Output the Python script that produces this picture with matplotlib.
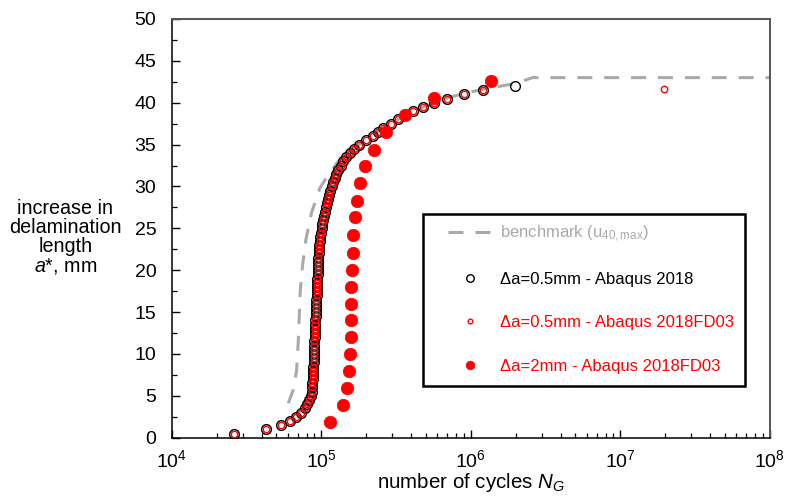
import matplotlib
matplotlib.use("Agg")
import matplotlib.pyplot as plt
from matplotlib.lines import Line2D
from matplotlib.patches import Rectangle
from matplotlib.ticker import LogLocator, MultipleLocator, NullFormatter

plt.rcParams['font.family'] = ['Liberation Sans', 'DejaVu Sans']
plt.rcParams['mathtext.fontset'] = 'custom'
plt.rcParams['mathtext.rm'] = 'Liberation Sans'
plt.rcParams['mathtext.it'] = 'Liberation Sans:italic'
plt.rcParams['mathtext.bf'] = 'Liberation Sans:bold'

# benchmark curve (u40,max)
bench_n = [6.03e4, 6.5e4, 6.85e4, 7.03e4, 7.25e4, 7.5e4, 7.9e4, 8.6e4, 9.8e4,
           1.08e5, 1.3e5, 1.8e5, 2.6e5, 4.1e5, 7.0e5, 1.2e6, 2.0e6, 2.6e6, 1.0e8]
bench_a = [4.1, 5.7, 8.0, 11.5, 17.5, 20.5, 23.6, 26.8, 29.8,
           31.0, 33.0, 35.0, 37.0, 39.0, 40.6, 41.6, 42.3, 43.0, 43.0]

# da = 0.5 mm, Abaqus 2018
abq_a = [0.5, 1.0, 1.5, 2.0, 2.5, 3.0, 3.5, 4.0, 4.5, 5.0, 5.5, 6.0, 6.5, 7.0,
         7.5, 8.0, 8.5, 9.0, 9.5, 10.0, 10.5, 11.0, 11.5, 12.0, 12.5, 13.0,
         13.5, 14.0, 14.5, 15.0, 15.5, 16.0, 16.5, 17.0, 17.5, 18.0, 18.5,
         19.0, 19.5, 20.0, 20.5, 21.0, 21.5, 22.0, 22.5, 23.0, 23.5, 24.0,
         24.5, 25.0, 25.5, 26.0, 26.5, 27.0, 27.5, 28.0, 28.5, 29.0, 29.5,
         30.0, 30.5, 31.0, 31.5, 32.0, 32.5, 33.0, 33.5, 34.0, 34.5, 35.0,
         35.5, 36.0, 36.5, 37.0, 37.5, 38.0, 38.5, 39.0, 39.5, 40.0, 40.5,
         41.0, 41.5, 42.0]
abq_n = [26100, 42500, 53600, 61800, 67800, 73600, 77900, 80700, 83200, 85100,
         86300, 87000, 87400, 87800, 88100, 88400, 88700, 89000, 89200, 89500,
         89700, 90000, 90200, 90500, 90800, 91000, 91300, 91600, 91800, 92100,
         92400, 92700, 93000, 93200, 93500, 93800, 94000, 94300, 94600, 94900,
         95200, 95600, 95900, 96300, 96800, 97300, 97900, 99000, 100000, 101000,
         102100, 103300, 104700, 106200, 107800, 109500, 111300, 113300, 115500,
         117900, 120500, 123400, 126600, 130500, 135000, 140500, 147000, 155000,
         165000, 179000, 200000, 221000, 241000, 260000, 292000, 325000, 363000,
         409000, 478000, 568000, 697000, 902000, 1210000, 1990000]

# da = 0.5 mm, Abaqus 2018FD03: same increments up to 41.5 mm, last one far out
fd05_a = abq_a[:-1] + [41.6]
fd05_n = abq_n[:-1] + [1.96e7]

# da = 2 mm, Abaqus 2018FD03
fd2_a = [1.9, 3.9, 5.95, 8.0, 10.0, 12.0, 14.0, 16.0, 18.0, 20.0, 22.1,
         24.2, 26.3, 28.3, 30.4, 32.4, 34.4, 36.5, 38.5, 40.6, 42.6]
fd2_n = [1.145e5, 1.393e5, 1.495e5, 1.527e5, 1.559e5, 1.575e5, 1.575e5,
         1.575e5, 1.589e5, 1.607e5, 1.625e5, 1.64e5, 1.675e5, 1.727e5,
         1.818e5, 1.973e5, 2.255e5, 2.71e5, 3.62e5, 5.69e5, 1.36e6]

BENCH_GREY = '#a9a9a9'

fig = plt.figure(figsize=(7.86, 4.97), dpi=100)
ax = fig.add_axes([0.2184, 0.1193, 0.7607, 0.8425])

ax.plot(bench_n, bench_a, color=BENCH_GREY, lw=2.2, dashes=(4.9, 3.9), zorder=1)
ax.plot(abq_n, abq_a, ls='none', marker='o', ms=7.0, mfc='none', mec='black',
        mew=1.0, zorder=2)
ax.plot(fd05_n, fd05_a, ls='none', marker='o', ms=4.6, mfc='none', mec='red',
        mew=1.0, zorder=3)
ax.plot(fd2_n, fd2_a, ls='none', marker='o', ms=9.0, mfc='red', mec='red',
        mew=0.5, zorder=4)

ax.set_xscale('log')
ax.set_xlim(1e4, 1e8)
ax.set_ylim(0, 50)
ax.xaxis.set_major_locator(LogLocator(base=10, numticks=10))
ax.xaxis.set_minor_locator(LogLocator(base=10, subs=range(2, 10), numticks=10))
ax.xaxis.set_minor_formatter(NullFormatter())
ax.yaxis.set_major_locator(MultipleLocator(5))
ax.yaxis.set_minor_locator(MultipleLocator(2.5))

ax.tick_params(which='major', direction='in', length=6, width=1.0,
               labelsize=14, colors='black')
ax.tick_params(which='minor', direction='in', length=3.5, width=0.9)
ax.tick_params(axis='y', which='major', pad=11)
ax.tick_params(axis='x', which='major', pad=8)

for side in ['left', 'bottom']:
    ax.spines[side].set_color('black')
    ax.spines[side].set_linewidth(1.1)
for side in ['top', 'right']:
    ax.spines[side].set_color('#555555')
    ax.spines[side].set_linewidth(1.4)

ax.set_xlabel(r'number of cycles $\mathit{N}_{\mathit{G}}$', fontsize=14.8,
              labelpad=0)
fig.text(0.083, 0.522, 'increase in\ndelamination\nlength\n$\\mathit{a}$*, mm',
         ha='center', va='center', multialignment='center', fontsize=14.2,
         linespacing=1.0)

# legend: entries without frame, boxed by a separate rectangle
handles = [
    Line2D([], [], color=BENCH_GREY, lw=2.2, dashes=(4.9, 3.9)),
    Line2D([], [], ls='none', marker='o', ms=5.4, mfc='none', mec='black', mew=1.0),
    Line2D([], [], ls='none', marker='o', ms=3.4, mfc='none', mec='red', mew=1.0),
    Line2D([], [], ls='none', marker='o', ms=6.2, mfc='red', mec='red', mew=0.5),
]
labels = [r'benchmark (u$_{\mathregular{40,max}}$)',
          'Δa=0.5mm - Abaqus 2018',
          'Δa=0.5mm - Abaqus 2018FD03',
          'Δa=2mm - Abaqus 2018FD03']
ax.legend(handles, labels, loc='upper left', bbox_to_anchor=(0.462, 0.512),
          frameon=False, fontsize=12, labelcolor=[BENCH_GREY, 'black', 'red', 'red'],
          handlelength=2.6, handletextpad=0.55, labelspacing=1.7,
          borderpad=0, borderaxespad=0)
ax.add_patch(Rectangle((0.42, 0.124), 0.539, 0.41, transform=ax.transAxes,
                       fill=False, edgecolor='black', lw=1.8, zorder=5))

fig.savefig('out.png', dpi=100)
